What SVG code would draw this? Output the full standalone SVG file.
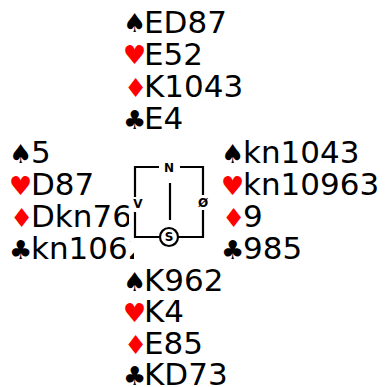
<svg xmlns="http://www.w3.org/2000/svg" width="385" height="387" viewBox="0 0 385 387">
<style>
.t{font-family:"DejaVu Sans",Verdana,sans-serif;font-size:31px;fill:#000}
.s{font-family:"DejaVu Sans",sans-serif;font-size:26px;fill:#000}
.r{fill:#ff0000}
.c{font-family:"DejaVu Sans",sans-serif;font-size:12px;font-weight:bold;fill:#000;text-anchor:middle}
.ln{stroke:#000;stroke-width:2.2;fill:none}
</style>
<rect width="385" height="387" fill="#fff"/>
<g id="north">
<text class="s" x="123" y="32">♠</text><text class="t" x="144" y="33">ED87</text>
<text class="s r" x="123" y="64">♥</text><text class="t" x="144" y="65">E52</text>
<text class="s r" x="124" y="97">♦</text><text class="t" x="144" y="97">K1043</text>
<text class="s" x="123" y="129">♣</text><text class="t" x="144" y="129">E4</text>
</g>
<g id="west">
<text class="s" x="9" y="163">♠</text><text class="t" x="31" y="163">5</text>
<text class="s r" x="9" y="195">♥</text><text class="t" x="31" y="195">D87</text>
<text class="s r" x="10" y="227">♦</text><text class="t" x="31" y="227">Dkn76</text>
<text class="s" x="9" y="259">♣</text><text class="t" x="31" y="259">kn1062</text>
</g>
<g id="east">
<text class="s" x="221" y="163">♠</text><text class="t" x="243" y="163">kn1043</text>
<text class="s r" x="221" y="195">♥</text><text class="t" x="243" y="195">kn10963</text>
<text class="s r" x="222" y="227">♦</text><text class="t" x="243" y="227">9</text>
<text class="s" x="221" y="259">♣</text><text class="t" x="243" y="259">985</text>
</g>
<g id="south">
<text class="s" x="123" y="291">♠</text><text class="t" x="144" y="291">K962</text>
<text class="s r" x="123" y="322">♥</text><text class="t" x="144" y="322">K4</text>
<text class="s r" x="124" y="354">♦</text><text class="t" x="144" y="354">E85</text>
<text class="s" x="123" y="385">♣</text><text class="t" x="144" y="385">KD73</text>
</g>
<g id="compass">
<rect x="129" y="150" width="81" height="91" fill="#fff"/>
<rect x="134" y="241" width="76" height="24" fill="#fff"/>
<g class="ln">
<path d="M159,167H135V197M135,212V237H160M178,237H203V210M203,195V167H180"/>
<path d="M170,183V220"/>
<circle cx="169" cy="237" r="9"/>
</g>
<text class="c" x="169" y="172">N</text>
<text class="c" x="138" y="208">V</text>
<text class="c" x="203" y="207">Ø</text>
<text class="c" x="169" y="241">S</text>
</g>
</svg>
